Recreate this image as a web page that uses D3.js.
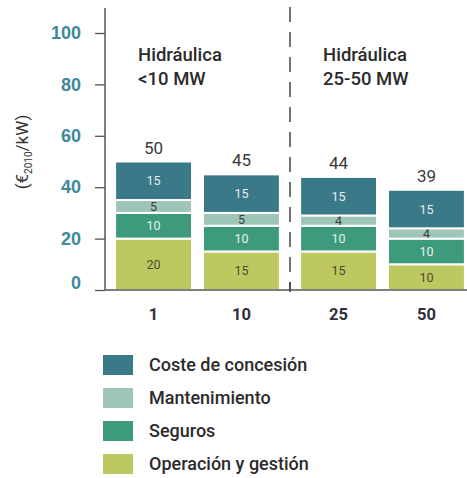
<!DOCTYPE html>
<html>
<head>
<meta charset="utf-8">
<script src="https://cdn.jsdelivr.net/npm/d3@7"></script>
<style>
  html, body { margin: 0; padding: 0; background: #fff; }
  svg { display: block; font-family: Roboto, "DejaVu Sans", sans-serif; }
</style>
</head>
<body>
<svg id="chart" width="467" height="478"></svg>
<script>
// Cost components per plant size (€2010/kW)
const groups = ["Hidráulica <10 MW", "Hidráulica 25-50 MW"];
const groupLines = [["Hidráulica", "<10 MW"], ["Hidráulica", "25-50 MW"]];
const sizes = ["1", "10", "25", "50"];
const sizeGroup = [0, 0, 1, 1];
const series = ["Operación y gestión", "Seguros", "Mantenimiento", "Coste de concesión"];
const operacion = [20, 15, 15, 10];
const seguros = [10, 10, 10, 10];
const mantenimiento = [5, 5, 4, 4];
const concesion = [15, 15, 15, 15];
const totals = [50, 45, 44, 39];
const yTicks = [0, 20, 40, 60, 80, 100];
const legendOrder = ["Coste de concesión", "Mantenimiento", "Seguros", "Operación y gestión"];
const colors = {
  "Coste de concesión": "#3a7987",
  "Mantenimiento": "#9dc6b6",
  "Seguros": "#3d9a7d",
  "Operación y gestión": "#bec860"
};
const labelColors = {
  "Coste de concesión": "#e3f0f1",
  "Mantenimiento": "#3b3b3b",
  "Seguros": "#e3f3ec",
  "Operación y gestión": "#4a4a30"
};

const rows = sizes.map((s, i) => ({
  size: s,
  group: groups[sizeGroup[i]],
  "Operación y gestión": operacion[i],
  "Seguros": seguros[i],
  "Mantenimiento": mantenimiento[i],
  "Coste de concesión": concesion[i],
  total: totals[i]
}));

const svg = d3.select("#chart");
const x0 = 105, yBase = 290, yTop = 33;

const y = d3.scaleLinear().domain([0, 100]).range([yBase, yTop]);
const xg = d3.scaleBand().domain(groups).range([x0, x0 + 370]).padding(0);
const xi = d3.scaleBand().domain([0, 1]).range([0, xg.bandwidth()])
  .paddingInner(0.125).paddingOuter(0.115);
const barX = (d, i) => xg(d.group) + xi(i % 2);

const stacked = d3.stack().keys(series)(rows);

// y axis
const yAxis = svg.append("g")
  .attr("transform", `translate(${x0},0)`)
  .call(d3.axisLeft(y).tickValues(yTicks).tickSize(10).tickPadding(14));
yAxis.select(".domain").remove();
yAxis.selectAll(".tick line").attr("stroke", "#555").attr("stroke-width", 1.3);
yAxis.selectAll(".tick text")
  .attr("fill", "#3d8a9c")
  .attr("font-size", 18)
  .attr("font-weight", 700)
  .attr("y", d => d === 0 ? -7 : 0);
svg.append("line")
  .attr("x1", x0).attr("x2", x0)
  .attr("y1", 8).attr("y2", yBase)
  .attr("stroke", "#555").attr("stroke-width", 1.5);

// y axis title
const yTitle = svg.append("text")
  .attr("transform", "translate(28,152) rotate(-90)")
  .attr("text-anchor", "middle")
  .attr("fill", "#333")
  .attr("font-size", 17);
yTitle.append("tspan").text("(€");
yTitle.append("tspan").attr("font-size", 10).attr("dy", 4).text("2010");
yTitle.append("tspan").attr("dy", -4).text("/kW)");

// stacked bars
const layer = svg.append("g").selectAll("g")
  .data(stacked).join("g")
  .attr("fill", d => colors[d.key]);

layer.selectAll("rect")
  .data(d => d.map((p, i) => ({ p, i, key: d.key })))
  .join("rect")
  .attr("x", d => barX(rows[d.i], d.i))
  .attr("y", d => y(d.p[1]))
  .attr("width", xi.bandwidth())
  .attr("height", d => y(d.p[0]) - y(d.p[1]))
  .attr("stroke", "#fff")
  .attr("stroke-width", 2);

layer.selectAll("text")
  .data(d => d.map((p, i) => ({ p, i, key: d.key })))
  .join("text")
  .attr("x", d => barX(rows[d.i], d.i) + xi.bandwidth() / 2)
  .attr("y", d => (y(d.p[0]) + y(d.p[1])) / 2)
  .attr("dy", "0.36em")
  .attr("text-anchor", "middle")
  .attr("font-size", 12.5)
  .attr("fill", d => labelColors[d.key])
  .text(d => d.p[1] - d.p[0]);

// totals above bars
svg.append("g").selectAll("text")
  .data(rows).join("text")
  .attr("x", (d, i) => barX(d, i) + xi.bandwidth() / 2)
  .attr("y", d => y(d.total) - 8)
  .attr("text-anchor", "middle")
  .attr("font-size", 17)
  .attr("fill", "#3a3a3a")
  .text(d => d.total);

// baseline
svg.append("line")
  .attr("x1", x0).attr("x2", 467)
  .attr("y1", yBase).attr("y2", yBase)
  .attr("stroke", "#555").attr("stroke-width", 1.5);

// group separator
const sepX = xg(groups[1]);
svg.append("line")
  .attr("x1", sepX).attr("x2", sepX)
  .attr("y1", 7).attr("y2", yBase)
  .attr("stroke", "#444").attr("stroke-width", 1.5)
  .attr("stroke-dasharray", "15,10");
svg.append("line")
  .attr("x1", sepX).attr("x2", sepX)
  .attr("y1", yBase - 8).attr("y2", yBase + 2)
  .attr("stroke", "#444").attr("stroke-width", 1.5);

// x tick labels
svg.append("g").selectAll("text")
  .data(rows).join("text")
  .attr("x", (d, i) => barX(d, i) + xi.bandwidth() / 2)
  .attr("y", 320)
  .attr("text-anchor", "middle")
  .attr("font-size", 16.5)
  .attr("font-weight", 700)
  .attr("fill", "#2f2f3a")
  .text(d => d.size);

// group titles
groups.forEach((g, gi) => {
  const t = svg.append("text")
    .attr("x", xg(g) + xi(0) + 23)
    .attr("y", 61)
    .attr("font-size", 18.5)
    .attr("font-weight", 500)
    .attr("fill", "#2b2b2b");
  groupLines[gi].forEach((line, li) => {
    t.append("tspan")
      .attr("x", xg(g) + xi(0) + 23)
      .attr("dy", li === 0 ? 0 : 24)
      .text(line);
  });
});

// legend
const legend = svg.append("g").selectAll("g")
  .data(legendOrder).join("g")
  .attr("transform", (d, i) => `translate(103,${355 + i * 33})`);
legend.append("rect")
  .attr("width", 30).attr("height", 20)
  .attr("fill", d => colors[d]);
legend.append("text")
  .attr("x", 46).attr("y", 10).attr("dy", "0.36em")
  .attr("font-size", 18)
  .attr("font-weight", 500)
  .attr("fill", "#2b2b2b")
  .text(d => d);
</script>
</body>
</html>
